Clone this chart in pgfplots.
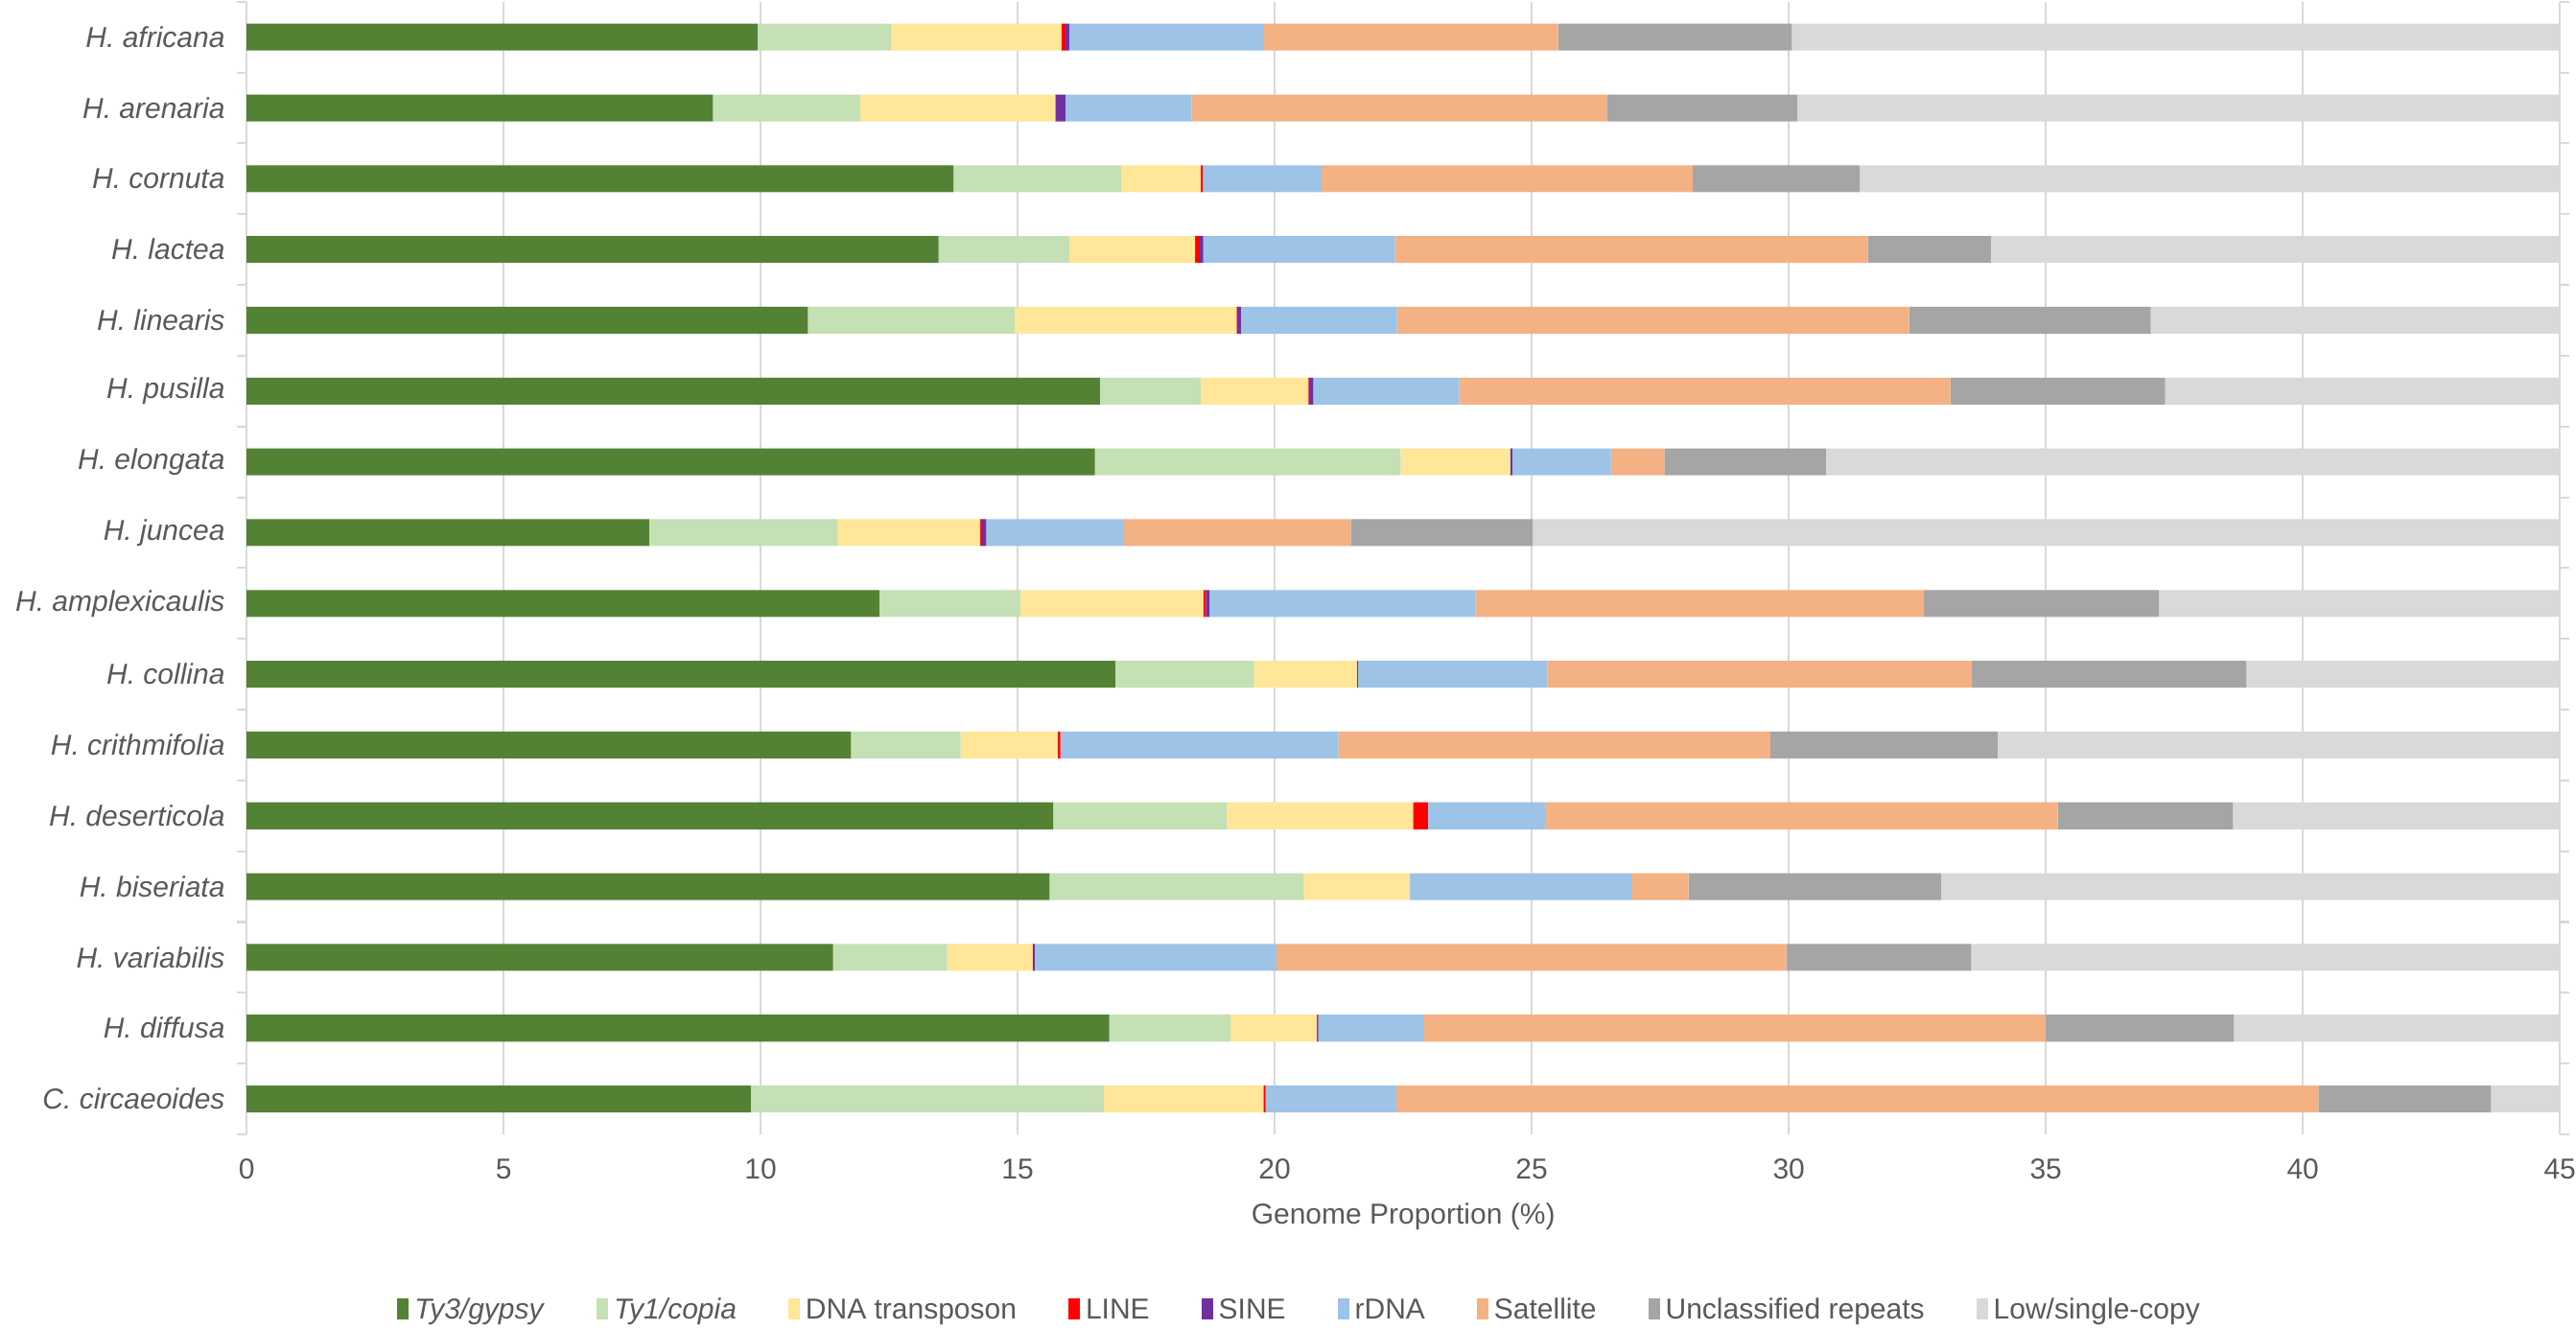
\documentclass[border=0pt]{standalone}
\usepackage{fontspec}
\setmainfont{Liberation Sans}
\usepackage{pgfplots}
\usepackage{pgfplotstable}
\pgfplotsset{compat=1.18}
\definecolor{cgypsy}{HTML}{548235}
\definecolor{ccopia}{HTML}{C5E0B4}
\definecolor{cdna}{HTML}{FFE699}
\definecolor{cline}{HTML}{FF0000}
\definecolor{csine}{HTML}{7030A0}
\definecolor{crdna}{HTML}{9DC3E6}
\definecolor{csat}{HTML}{F4B183}
\definecolor{cunc}{HTML}{A5A5A5}
\definecolor{clow}{HTML}{D9D9D9}
\definecolor{ctext}{HTML}{595959}
\definecolor{cgrid}{HTML}{D9D9D9}
\newcommand\ff{\fontsize{10bp}{12bp}\selectfont}
\pgfplotstableread{
idx gypsy copia dna line sine rdna sat unc low
0  9.94 2.60 3.31 0.08 0.07 3.79 5.72  4.55 69.94
1  9.07 2.87 3.79 0.00 0.20 2.45 8.08  3.70 69.84
2  13.75 3.26 1.55 0.04 0.00 2.31 7.22 3.25 68.62
3  13.46 2.54 2.45 0.09 0.07 3.73 9.20 2.39 66.07
4  10.92 4.02 4.32 0.01 0.07 3.04 9.96 4.70 62.96
5  16.60 1.96 2.09 0.01 0.09 2.84 9.55 4.18 62.68
6  16.50 5.95 2.13 0.00 0.04 1.92 1.04 3.14 69.28
7  7.83 3.67 2.77 0.04 0.08 2.66 4.43 3.54 74.98
8  12.31 2.74 3.56 0.05 0.07 5.18 8.72 4.57 62.80
9  16.90 2.70 2.00 0.02 0.00 3.68 8.26 5.34 61.10
10 11.76 2.13 1.89 0.05 0.00 5.41 8.40 4.42 65.94
11 15.69 3.38 3.62 0.29 0.00 2.28 9.97 3.41 61.36
12 15.62 4.95 2.06 0.00 0.00 4.31 1.11 4.91 67.04
13 11.41 2.22 1.66 0.02 0.02 4.70 9.92 3.60 66.45
14 16.78 2.36 1.68 0.00 0.03 2.04 12.11 3.66 61.34
15 9.81 6.87 3.10 0.04 0.00 2.55 17.93 3.36 56.34
}\data
\begin{document}
\begin{tikzpicture}
\useasboundingbox (0,0) rectangle (895.3bp,462bp);
\begin{axis}[
  at={(85.7bp,67.7bp)}, anchor=south west,
  width=804bp, height=393.7bp, scale only axis,
  xbar stacked, bar width=0.38,
  xmin=0, xmax=45, ymin=-0.5, ymax=15.5, y dir=reverse,
  xtick={0,5,...,45}, ytick={0,...,15},
  yticklabels={H. africana, H. arenaria, H. cornuta, H. lactea, H. linearis, H. pusilla, H. elongata, H. juncea, H. amplexicaulis, H. collina, H. crithmifolia, H. deserticola, H. biseriata, H. variabilis, H. diffusa, C. circaeoides},
  minor ytick={-0.5,0.5,...,15.5},
  xmajorgrids, major grid style={draw=cgrid, line width=0.7bp},
  axis line style={draw=none},
  tick align=outside,
  major tick length=0pt,
  minor tick length=3.3bp,
  minor y tick style={draw=cgrid, line width=0.7bp},
  /pgf/number format/assume math mode=true,
  xticklabel style={font=\ff, text=ctext, yshift=-5bp},
  yticklabel style={font=\ff\itshape, text=ctext, xshift=-4bp},
  xlabel={Genome Proportion (\%)},
  xlabel style={font=\ff, text=ctext, at={(axis description cs:0.5,-0.073)}, anchor=center},
  legend columns=9,
  legend style={draw=none, font=\ff, text=ctext, at={(axis description cs:0.456,-0.156)}, anchor=center,
    /tikz/every even column/.append style={column sep=16bp}},
  legend image code/.code={\fill[#1] (0bp,-3bp) rectangle (4bp,4.5bp);},
]
\addplot [fill=cgypsy, draw=none] table [x=gypsy, y=idx] {\data};
\addplot [fill=ccopia, draw=none] table [x=copia, y=idx] {\data};
\addplot [fill=cdna, draw=none] table [x=dna, y=idx] {\data};
\addplot [fill=cline, draw=none] table [x=line, y=idx] {\data};
\addplot [fill=csine, draw=none] table [x=sine, y=idx] {\data};
\addplot [fill=crdna, draw=none] table [x=rdna, y=idx] {\data};
\addplot [fill=csat, draw=none] table [x=sat, y=idx] {\data};
\addplot [fill=cunc, draw=none] table [x=unc, y=idx] {\data};
\addplot [fill=clow, draw=none] table [x=low, y=idx] {\data};
\legend{\textit{Ty3/gypsy}, \textit{Ty1/copia}, DNA transposon, LINE, SINE, rDNA, Satellite, Unclassified repeats, Low/single-copy}
\end{axis}
\end{tikzpicture}
\end{document}
